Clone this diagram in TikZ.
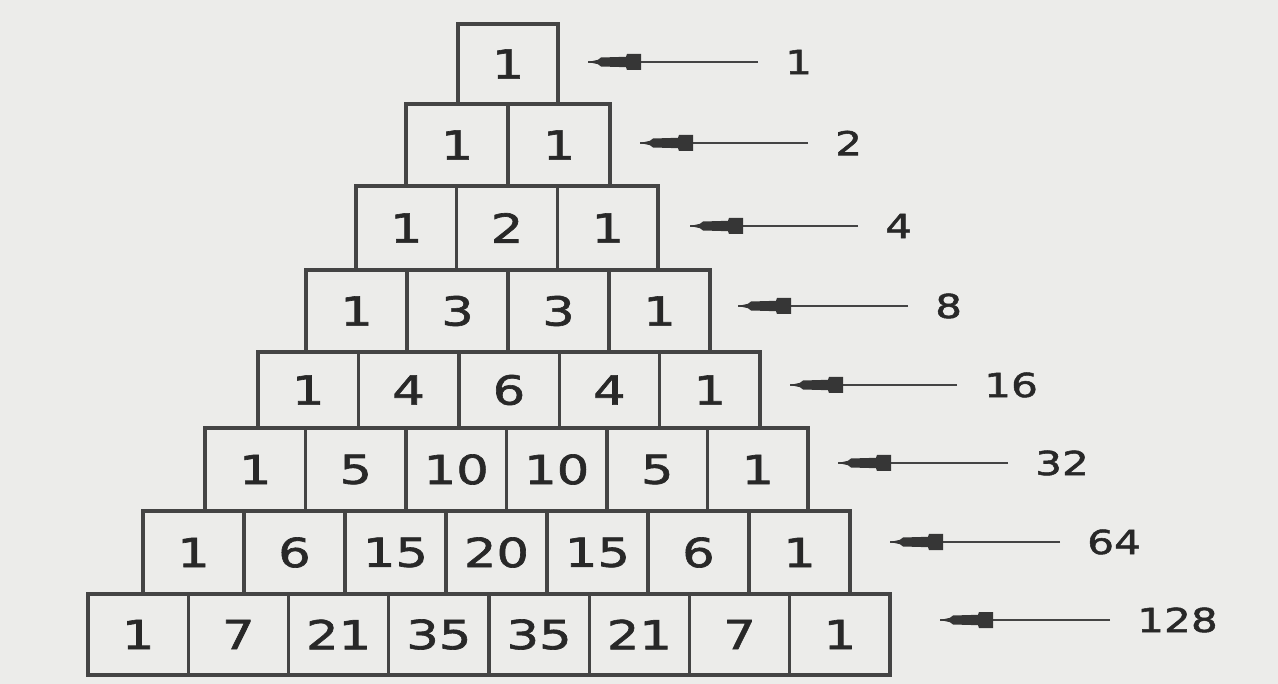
\documentclass[tikz,border=0pt]{standalone}
\usepackage{fontspec}
\newfontfamily\digitfont[FakeStretch=1.28,FakeBold=1.6]{DejaVu Sans}
\definecolor{bgc}{RGB}{236,236,234}
\definecolor{linec}{RGB}{68,68,68}
\definecolor{txtc}{RGB}{40,40,40}
\begin{document}
\begin{tikzpicture}[x=1pt,y=-1pt,
  cell/.style={draw=linec,line width=3.4pt,inner sep=0pt,text=txtc,font=\digitfont\fontsize{40}{40}\selectfont},
  lab/.style={inner sep=0pt,text=txtc,font=\digitfont\fontsize{33}{33}\selectfont,anchor=west},
  conn/.style={draw=linec,line width=2.8pt,shorten <=27pt},
  headfill/.style={fill=linec!80!black}]
\fill[bgc] (0,0) rectangle (1278,684);
\useasboundingbox (0,0) rectangle (1278,684);
\foreach \r/\tp/\bt/\lf/\w/\vals in {0/24/104/458/100/{1}, 1/104/186/406/102/{1,1}, 2/186/270/356/100.7/{1,2,1}, 3/270/352/306/101/{1,3,3,1}, 4/352/428/258/100.4/{1,4,6,4,1}, 5/428/511/205/100.5/{1,5,10,10,5,1}, 6/511/594/143/101/{1,6,15,20,15,6,1}, 7/594/675/88/100.25/{1,7,21,35,35,21,7,1}}{
  \pgfmathsetmacro\hh{\bt-\tp}
  \foreach \v [count=\k] in \vals {
    \node[cell,minimum width=\w pt,minimum height=\hh pt] (b-\r-\k) at ({\lf+(\k-0.5)*\w},{(\tp+\bt)/2}) {\v};
  }
}
\foreach \r/\y/\tip/\tail/\txt in {0/62/588/758/1, 1/143/640/808/2, 2/226/690/858/4, 3/306/738/908/8, 4/385/790/957/16, 5/463/838/1008/32, 6/542/890/1060/64, 7/620/940/1110/128}{
  \coordinate (t-\r) at (\tip,\y);
  \node[lab] (l-\r) at ({\tail+27},\y) {\txt};
  \draw[conn] (l-\r.west) -- (t-\r);
  \begin{scope}[shift={(t-\r)}]
    \fill[headfill] (0,0) -- (10,-2.2) -- (13,-4.5) -- (38,-5.2) -- (39,-8) -- (53,-8) -- (53,8) -- (39,8) -- (38,5.2) -- (13,4.5) -- (10,2.2) -- cycle;
  \end{scope}
}
\end{tikzpicture}
\end{document}
